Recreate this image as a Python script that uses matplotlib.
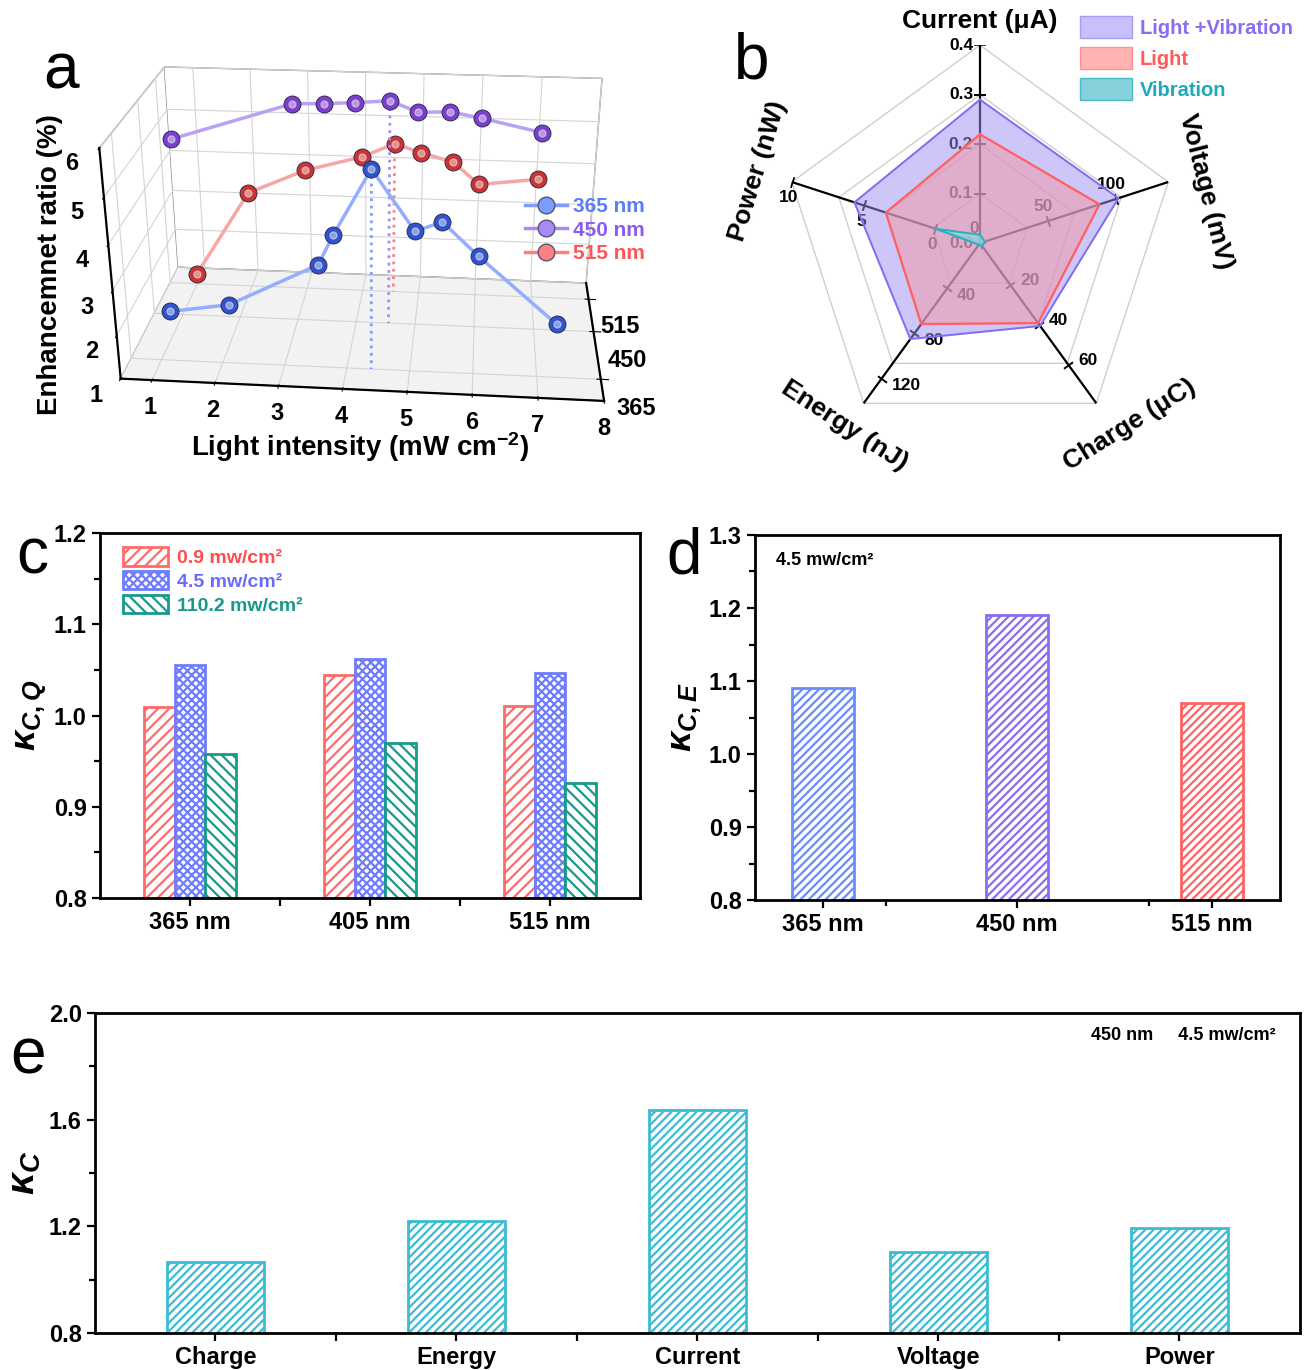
import numpy as np
import matplotlib
matplotlib.use('Agg')
import matplotlib.pyplot as plt
from matplotlib.lines import Line2D
from matplotlib.patches import Patch
from matplotlib.ticker import MultipleLocator

plt.rcParams['font.family'] = ['Liberation Sans', 'DejaVu Sans']
plt.rcParams['font.weight'] = 'bold'
plt.rcParams['axes.labelweight'] = 'bold'
plt.rcParams['mathtext.fontset'] = 'custom'
plt.rcParams['mathtext.rm'] = 'Liberation Sans:bold'
plt.rcParams['mathtext.it'] = 'Liberation Sans:italic:bold'
plt.rcParams['mathtext.bf'] = 'Liberation Sans:bold'
plt.rcParams['grid.color'] = '#d4d4d4'
plt.rcParams['grid.linewidth'] = 0.8
plt.rcParams['hatch.linewidth'] = 1.6

# ---- panel a: enhancement ratio vs light intensity ----
wl_rows = [365, 450, 515]
x365 = [1.2, 2.15, 3.57, 3.81, 4.39, 5.05, 5.46, 6.02, 7.26]
z365 = [2.15, 2.36, 3.34, 4.01, 5.43, 4.15, 4.37, 3.66, 2.22]
x450 = [1.0, 3.0, 3.5, 4.0, 4.55, 5.0, 5.5, 6.0, 6.95]
z450 = [5.16, 6.02, 6.04, 6.08, 6.14, 5.91, 5.94, 5.82, 5.55]
x515 = [1.0, 2.0, 3.0, 4.0, 4.55, 5.0, 5.55, 6.0, 7.0]
z515 = [1.25, 3.35, 3.94, 4.31, 4.64, 4.45, 4.25, 3.74, 3.91]

# ---- panel b: radar ----
radar_axes = ['Current (μA)', 'Voltage (mV)', 'Charge (μC)', 'Energy (nJ)', 'Power (nW)']
radar_lo = [0.0, 0.0, -1.0, 0.0, -3.1]
radar_hi = [0.4, 138.0, 79.5, 142.0, 10.0]
radar_ticks = [[0.0, 0.1, 0.2, 0.3, 0.4], [0, 50, 100], [20, 40, 60, 80], [40, 80, 120], [0, 5, 10]]
radar_ticklabels = [['0.0', '0.1', '0.2', '0.3', '0.4'], ['0', '50', '100'], ['20', '40', '60', '80'],
                    ['40', '80', '120'], ['0', '5', '10']]
light_vib = [0.29, 101.5, 40.6, 85.0, 5.64]
light_only = [0.22, 87.6, 39.2, 71.7, 3.45]
vib_only = [0.017, 3.6, 0.5, 1.4, 0.0]

# ---- panel c ----
c_groups = ['365 nm', '405 nm', '515 nm']
c_series = ['0.9 mw/cm²', '4.5 mw/cm²', '110.2 mw/cm²']
c_low = [1.009, 1.044, 1.011]
c_mid = [1.055, 1.062, 1.047]
c_high = [0.958, 0.970, 0.926]

# ---- panel d ----
d_groups = ['365 nm', '450 nm', '515 nm']
d_vals = [1.09, 1.19, 1.07]

# ---- panel e ----
e_groups = ['Charge', 'Energy', 'Current', 'Voltage', 'Power']
e_vals = [1.065, 1.22, 1.635, 1.105, 1.195]

fig = plt.figure(figsize=(13.15, 13.7), dpi=100)

# ================= a =================
ax = fig.add_axes([-0.004, 0.642, 0.56, 0.38], projection='3d', computed_zorder=False)
ax.set_proj_type('persp', focal_length=0.45)
ax.view_init(elev=24, azim=-85)
ax.set_box_aspect((2.1, 1.12, 1.08), zoom=1.07)
ax.set_xlim(0.5, 8)
ax.set_ylim(330, 550)
ax.set_zlim(1, 6)
ax.xaxis.set_pane_color((1, 1, 1, 1))
ax.yaxis.set_pane_color((1, 1, 1, 1))
ax.zaxis.set_pane_color((0.95, 0.95, 0.95, 1))
for a_ in (ax.xaxis, ax.yaxis, ax.zaxis):
    a_.pane.set_edgecolor('#8c8c8c')
    a_.line.set_linewidth(1.6)
ax.zaxis.set_ticks_position('lower')

series = [(x515, z515, 515, '#f7a6a6', '#c93535', '#ff8080'),
          (x450, z450, 450, '#b9a2f4', '#7b3fcc', '#a98af5'),
          (x365, z365, 365, '#93aefc', '#3253cf', '#7d9cff')]
zo = 2
for xs, zs, wl, lc, mc, lgc in series:
    ys = [wl] * len(xs)
    ax.plot(xs, ys, zs, color=lc, lw=2.5, zorder=zo)
    k = int(np.argmax(zs))
    ax.plot([xs[k], xs[k]], [wl, wl], [zs[k], 1], ls=':', lw=2, color=lgc, zorder=zo)
    ax.scatter(xs, ys, zs, s=150, c=mc, edgecolors='#222244', linewidths=0.6, depthshade=False, zorder=zo + 1)
    ax.scatter(xs, ys, zs, s=25, c='white', alpha=0.45, depthshade=False, zorder=zo + 2)
    zo += 3

ax.set_xticks(range(1, 9))
ax.set_yticks(wl_rows)
ax.set_zticks(range(1, 7))
ax.tick_params(axis='both', labelsize=17, pad=1)
ax.tick_params(axis='y', pad=7)
fig.text(0.274, 0.6735, 'Light intensity (mW cm$^{\\mathregular{-2}}$)', fontsize=20, ha='center', va='center')
fig.text(0.038, 0.8066, 'Enhancemnet ratio (%)', fontsize=20, rotation=90, ha='center', va='center')

leg_handles = [Line2D([0], [0], color=c, lw=2.5, marker='o', ms=12, mfc=c, mec='#555577')
               for c in ('#7d9cff', '#a98af5', '#ff8080')]
ax.legend(leg_handles, ['365 nm', '450 nm', '515 nm'], loc='center', bbox_to_anchor=(0.445, 0.832),
          bbox_transform=fig.transFigure, frameon=False, fontsize=15, handlelength=2.0,
          handletextpad=0.3, labelspacing=0.2,
          labelcolor=['#5b7cff', '#8a5cf0', '#ff5555'])

# ================= b =================
axb = fig.add_axes([0.5947, 0.678, 0.3011, 0.289], projection='polar')
axb.set_ylim(0, 1)
axb.axis('off')
theta = np.deg2rad([90, 18, -54, -126, 162])
closed = np.append(theta, theta[0])
for r in (0.25, 0.5, 0.75, 1.0):
    axb.plot(closed, [r] * 6, color='#cfcfcf', lw=1, zorder=1)


def norm(vals):
    return [(v - lo) / (hi - lo) for v, lo, hi in zip(vals, radar_lo, radar_hi)]


for i, th in enumerate(theta):
    axb.plot([th, th], [0, 1], color='black', lw=1.6, zorder=2)
    lo, hi = radar_lo[i], radar_hi[i]
    rr = [(t - lo) / (hi - lo) for t in radar_ticks[i]]
    axb.plot([th] * len(rr), rr, ls='none', marker=(2, 0, np.rad2deg(th)), ms=8, mew=1.4,
             color='black', zorder=2)
    offs = [((-5, 0), 'right', 'center'), ((-4, 5), 'center', 'bottom'), ((7, 3), 'left', 'center'),
            ((7, -5), 'left', 'center'), ((-2, -6), 'center', 'top')][i]
    for t, r in zip(radar_ticklabels[i], rr):
        axb.annotate(t, (th, r), xytext=offs[0], textcoords='offset points', ha=offs[1], va=offs[2],
                     fontsize=12.5, color='black', zorder=2)

lab_pos = [(90, 1.12, 0), (13, 1.17, -76), (-50.5, 1.19, 32), (-126.6, 1.15, -33), (162, 1.18, 73)]
for name, (ang, r, rot) in zip(radar_axes, lab_pos):
    axb.text(np.deg2rad(ang), r, name, rotation=rot, ha='center', va='center', fontsize=19,
             rotation_mode='anchor')

axb.fill(closed, norm(light_vib) + norm(light_vib)[:1], color='#9d8ff5', alpha=0.5, zorder=3)
axb.plot(closed, norm(light_vib) + norm(light_vib)[:1], color='#8070f0', lw=1.4, zorder=3)
axb.fill(closed, norm(light_only) + norm(light_only)[:1], color='#f29aa8', alpha=0.55, zorder=4)
axb.plot(closed, norm(light_only) + norm(light_only)[:1], color='#ff6060', lw=1.6, zorder=4)
axb.fill(closed, norm(vib_only) + norm(vib_only)[:1], color='#8fd4dc', alpha=0.8, zorder=5)
axb.plot(closed, norm(vib_only) + norm(vib_only)[:1], color='#2ab0c0', lw=1.4, zorder=5)

b_handles = [Patch(facecolor='#c8c0fa', edgecolor='#a89cf5'),
             Patch(facecolor='#ffb3b3', edgecolor='#ff9090'),
             Patch(facecolor='#85d2da', edgecolor='#4ab8c6')]
fig.legend(b_handles, ['Light +Vibration', 'Light', 'Vibration'], loc='upper right',
           bbox_to_anchor=(0.997, 1.0015), frameon=False, fontsize=14.5, handlelength=2.6,
           handleheight=1.3, handletextpad=0.4, labelspacing=0.45,
           labelcolor=['#8a6cf5', '#ff5a5a', '#1fa9ba'])

# ================= c =================
axc = fig.add_axes([0.076, 0.3445, 0.4106, 0.2664])
pos = np.arange(1, len(c_groups) + 1)
w = 0.17
c_styles = [('#ff6b6b', '///'), ('#6f7cff', 'xxxx'), ('#159a8b', '\\\\\\')]
for j, vals in enumerate([c_low, c_mid, c_high]):
    col, hat = c_styles[j]
    axc.bar(pos + (j - 1) * w, vals, width=w, color='white', edgecolor=col, hatch=hat, lw=2,
            label=c_series[j])
axc.set_ylim(0.8, 1.2)
axc.set_xlim(0.5, 3.5)
axc.yaxis.set_major_locator(MultipleLocator(0.1))
axc.yaxis.set_minor_locator(MultipleLocator(0.05))
axc.set_xticks(pos, c_groups)
axc.set_xticks([1.5, 2.5], minor=True)
axc.set_ylabel(r'$\kappa_{C,Q}$', fontsize=26, labelpad=4)
axc.legend(loc='upper left', bbox_to_anchor=(0.01, 1.01), frameon=False, fontsize=14,
           handlelength=2.3, handleheight=1.1, handletextpad=0.5, labelspacing=0.2,
           labelcolor=['#ff4d4d', '#6a6aff', '#169a8c'])

# ================= d =================
axd = fig.add_axes([0.574, 0.343, 0.3992, 0.2665])
dpos = np.arange(1, len(d_groups) + 1)
d_cols = ['#6a8cff', '#8a6cf0', '#ff6262']
axd.bar(dpos, d_vals, width=0.32, color='white', edgecolor=d_cols, hatch='////', lw=2)
axd.set_xlim(0.65, 3.35)
axd.set_ylim(0.8, 1.3)
axd.yaxis.set_major_locator(MultipleLocator(0.1))
axd.yaxis.set_minor_locator(MultipleLocator(0.05))
axd.set_xticks(dpos, d_groups)
axd.set_xticks(np.linspace(0.65, 3.35, 5)[1:-1], minor=True)
axd.tick_params(axis='x', which='major', length=0)
axd.set_ylabel(r'$\kappa_{C,E}$', fontsize=26, labelpad=4)
axd.text(0.04, 0.93, '4.5 mw/cm²', transform=axd.transAxes, fontsize=13, va='center')

# ================= e =================
axe = fig.add_axes([0.0722, 0.027, 0.9163, 0.2336])
epos = np.arange(1, len(e_groups) + 1)
axe.bar(epos, e_vals, width=0.4, color='white', edgecolor='#3bbcd4', hatch='////', lw=2)
axe.set_xlim(0.5, 5.5)
axe.set_ylim(0.8, 2.0)
axe.yaxis.set_major_locator(MultipleLocator(0.4))
axe.yaxis.set_minor_locator(MultipleLocator(0.2))
axe.set_xticks(epos, e_groups)
axe.set_xticks(np.arange(1.5, 5.0, 1.0), minor=True)
axe.set_ylabel(r'$\kappa_{C}$', fontsize=28, labelpad=4)
axe.text(0.98, 0.93, '450 nm     4.5 mw/cm²', transform=axe.transAxes, fontsize=13, ha='right',
         va='center')

for a_ in (axc, axd, axe):
    for s in a_.spines.values():
        s.set_linewidth(2)
    a_.tick_params(axis='both', which='both', direction='out', labelsize=17, width=1.6)
    a_.tick_params(which='major', length=6)
    a_.tick_params(which='minor', length=4)

axc.tick_params(axis='x', which='minor', length=6)
axe.tick_params(axis='x', which='minor', length=6)

fig.text(0.033, 0.948, 'a', fontsize=46, fontweight='normal', ha='left', va='center')
fig.text(0.558, 0.955, 'b', fontsize=46, fontweight='normal', ha='left', va='center')
fig.text(0.012, 0.594, 'c', fontsize=46, fontweight='normal', ha='left', va='center')
fig.text(0.507, 0.594, 'd', fontsize=46, fontweight='normal', ha='left', va='center')
fig.text(0.008, 0.229, 'e', fontsize=46, fontweight='normal', ha='left', va='center')

fig.savefig('out.png', dpi=100)
